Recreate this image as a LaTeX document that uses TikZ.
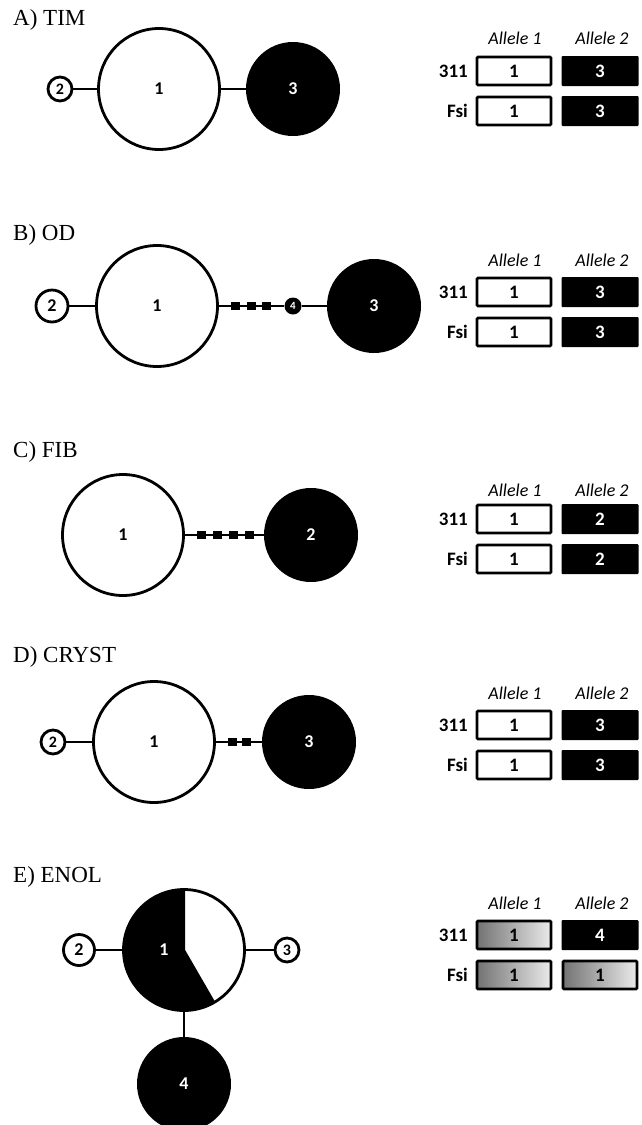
\documentclass[tikz,border=0pt]{standalone}
\usepackage{fontspec}
\setmainfont{Liberation Serif}
\newfontfamily\calib{Carlito}
\begin{document}
\begin{tikzpicture}[x=1pt,y=-1pt,
  lbl/.style={anchor=west,font=\fontsize{23}{23}\selectfont,inner sep=0pt},
  wc/.style={circle,draw=black,line width=2.8pt,fill=white,inner sep=0pt,minimum size=#1,font=\calib\bfseries\fontsize{18}{18}\selectfont},
  bc/.style={circle,fill=black,inner sep=0pt,minimum size=#1,text=white,font=\calib\bfseries\fontsize{18}{18}\selectfont},
  conn/.style={line width=2.6pt},
  sq/.style={fill=black,minimum width=9pt,minimum height=8pt,inner sep=0pt},
  hdr/.style={font=\calib\itshape\fontsize{18}{18}\selectfont,inner sep=0pt},
  rowl/.style={anchor=east,font=\calib\bfseries\fontsize{19}{19}\selectfont,inner sep=0pt},
  wbox/.style={draw=black,line width=2.8pt,fill=white,minimum width=74pt,minimum height=28pt,inner sep=0pt,rounded corners=1pt,font=\calib\bfseries\fontsize{19}{19}\selectfont},
  bbox/.style={fill=black,text=white,minimum width=77pt,minimum height=30pt,inner sep=0pt,rounded corners=1pt,font=\calib\bfseries\fontsize{19}{19}\selectfont},
  gbox/.style={draw=black,line width=2.8pt,left color=black!55,right color=black!8,minimum width=74pt,minimum height=28pt,inner sep=0pt,rounded corners=1pt,font=\calib\bfseries\fontsize{19}{19}\selectfont},
]
\useasboundingbox[fill=white] (0,0) rectangle (641,1125);

% ---------- A) TIM ----------
\node[lbl] (la) at (13,20) {A) TIM};
\node[wc=24pt,font=\calib\bfseries\fontsize{16}{16}\selectfont] (a2) at (60,89) {2};
\node[wc=121pt] (a1) at (159,89) {1};
\node[bc=94pt] (a3) at (293,89) {3};
\draw[conn] (a2) -- (a1);
\draw[conn] (a1) -- (a3);
\node[hdr] (ah1) at (515,38) {Allele 1};
\node[hdr] (ah2) at (602,38) {Allele 2};
\node[rowl] (ar1) at (468,71) {311};
\node[rowl] (ar2) at (468,111) {Fsi};
\node[wbox] (ab11) at (514,71) {1};
\node[bbox] (ab12) at (600,71) {3};
\node[wbox] (ab21) at (514,111) {1};
\node[bbox] (ab22) at (600,111) {3};

% ---------- B) OD ----------
\node[lbl] (lb) at (13,235) {B) OD};
\node[wc=32pt] (b2) at (52,306) {2};
\node[wc=121pt] (b1) at (157,306) {1};
\node[bc=17pt,font=\calib\bfseries\fontsize{11}{11}\selectfont] (b4) at (293,306) {4};
\node[bc=94pt] (b3) at (374,306) {3};
\draw[conn] (b2) -- (b1);
\draw[conn] (b1) -- node[sq,pos=0.25] (bs1) {} node[sq,pos=0.5] (bs2) {} node[sq,pos=0.73] (bs3) {} (b4);
\draw[conn] (b4) -- (b3);
\node[hdr] (bh1) at (515,260) {Allele 1};
\node[hdr] (bh2) at (602,260) {Allele 2};
\node[rowl] (br1) at (468,292) {311};
\node[rowl] (br2) at (468,332) {Fsi};
\node[wbox] (bb11) at (514,292) {1};
\node[bbox] (bb12) at (600,292) {3};
\node[wbox] (bb21) at (514,332) {1};
\node[bbox] (bb22) at (600,332) {3};

% ---------- C) FIB ----------
\node[lbl] (lc) at (13,452) {C) FIB};
\node[wc=121pt] (c1) at (123,535) {1};
\node[bc=94pt] (c2) at (311,535) {2};
\draw[conn] (c1) -- node[sq,pos=0.21] (cs1) {} node[sq,pos=0.415] (cs2) {} node[sq,pos=0.62] (cs3) {} node[sq,pos=0.825] (cs4) {} (c2);
\node[hdr] (ch1) at (515,490) {Allele 1};
\node[hdr] (ch2) at (602,490) {Allele 2};
\node[rowl] (cr1) at (468,519) {311};
\node[rowl] (cr2) at (468,559) {Fsi};
\node[wbox] (cb11) at (514,519) {1};
\node[bbox] (cb12) at (600,519) {2};
\node[wbox] (cb21) at (514,559) {1};
\node[bbox] (cb22) at (600,559) {2};

% ---------- D) CRYST ----------
\node[lbl] (ld) at (13,657) {D) CRYST};
\node[wc=24pt,font=\calib\bfseries\fontsize{16}{16}\selectfont] (d2) at (53,742) {2};
\node[wc=121pt] (d1) at (154,742) {1};
\node[bc=94pt] (d3) at (309,742) {3};
\draw[conn] (d2) -- (d1);
\draw[conn] (d1) -- node[sq,pos=0.36] (ds1) {} node[sq,pos=0.67] (ds2) {} (d3);
\node[hdr] (dh1) at (515,693) {Allele 1};
\node[hdr] (dh2) at (602,693) {Allele 2};
\node[rowl] (dr1) at (468,725) {311};
\node[rowl] (dr2) at (468,765) {Fsi};
\node[wbox] (db11) at (514,725) {1};
\node[bbox] (db12) at (600,725) {3};
\node[wbox] (db21) at (514,765) {1};
\node[bbox] (db22) at (600,765) {3};

% ---------- E) ENOL ----------
\node[lbl] (le) at (13,877) {E) ENOL};
\node[wc=31pt] (e2) at (79,950) {2};
\node[wc=24pt,font=\calib\bfseries\fontsize{16}{16}\selectfont] (e3) at (287,950) {3};
\node[bc=94pt] (e4) at (184,1084) {4};
\node[circle,inner sep=0pt,minimum size=121pt] (e1) at (184,950) {};
\fill[black] (e1.center) circle[radius=60.5];
\fill[white] (e1.center) -- ++(-90:60.5) arc[start angle=-90,end angle=60,radius=60.5] -- cycle;
\draw[line width=2.8pt] (e1.center) circle[radius=60.5];
\draw[line width=2pt] (e1.center) ++(-90:60.5) -- (e1.center) -- ++(60:60.5);
\node[text=white,font=\calib\bfseries\fontsize{18}{18}\selectfont] (e1t) at (164,950) {1};
\draw[conn] (e2) -- (e1);
\draw[conn] (e1) -- (e3);
\draw[conn] (e1) -- (e4);
\node[hdr] (eh1) at (515,903) {Allele 1};
\node[hdr] (eh2) at (602,903) {Allele 2};
\node[rowl] (er1) at (468,935) {311};
\node[rowl] (er2) at (468,975) {Fsi};
\node[gbox] (eb11) at (514,935) {1};
\node[bbox] (eb12) at (600,935) {4};
\node[gbox] (eb21) at (514,975) {1};
\node[gbox] (eb22) at (600,975) {1};
\end{tikzpicture}
\end{document}
